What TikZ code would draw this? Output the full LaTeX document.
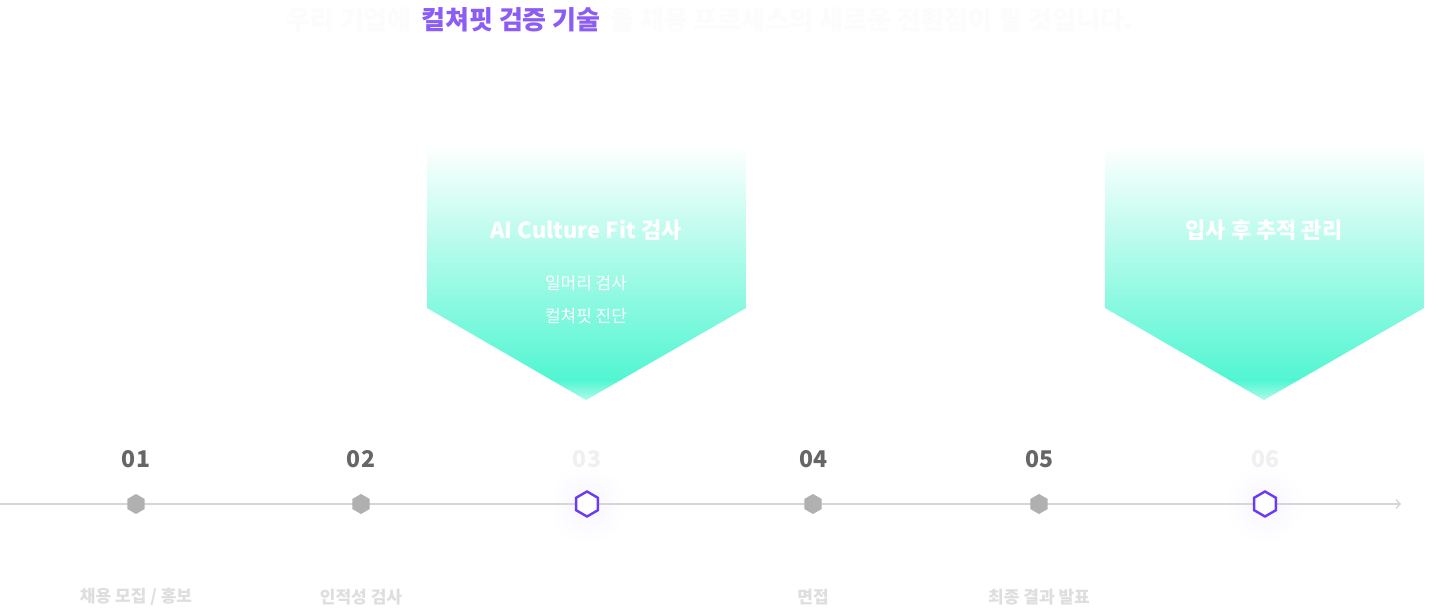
\documentclass[tikz,border=0pt]{standalone}
\usepackage{fontspec}
\setmainfont{Noto Sans CJK KR}
\usetikzlibrary{arrows.meta, positioning, shapes.geometric}
\definecolor{mint}{RGB}{82,246,210}
\definecolor{violetmain}{RGB}{107,58,245}
\definecolor{titlepurple}{RGB}{139,92,246}
\definecolor{stepgray}{RGB}{176,176,176}
\definecolor{numdark}{RGB}{102,102,102}
\definecolor{numlight}{RGB}{240,240,240}
\definecolor{labelgray}{RGB}{222,222,222}
\definecolor{faint}{RGB}{252,252,252}
\definecolor{linegray}{RGB}{214,214,214}

\begin{document}
\begin{tikzpicture}[x=1pt, y=-1pt,
    every node/.style={inner sep=0pt, align=center},
    title/.style={font=\fontsize{26}{30}\selectfont\bfseries},
    num/.style={font=\fontsize{23}{27}\selectfont\bfseries, text=numdark},
    numoff/.style={num, text=numlight},
    dot/.style={regular polygon, regular polygon sides=6, shape border rotate=30,
                fill=stepgray, minimum size=20pt},
    active/.style={regular polygon, regular polygon sides=6, shape border rotate=30,
                   draw=violetmain, line width=2.4pt, fill=white, minimum size=25pt},
    steplabel/.style={font=\fontsize{17}{21}\selectfont\bfseries, text=labelgray},
    headline/.style={font=\fontsize{22}{26}\selectfont\bfseries, text=white},
    subline/.style={font=\fontsize{17}{21}\selectfont, text=white},
    arr/.style={-{Straight Barb[length=4pt, width=9pt]}, line width=1.3pt, draw=linegray}
]
\fill[white] (0,0) rectangle (1449,609);
\useasboundingbox (0,0) rectangle (1449,609);

% heading
\node[title, text=titlepurple] (head) at (511,20) {컬쳐핏 검증 기술};
\node[title, text=faint, anchor=east] (headl) at (412,20) {우리 기업에};
\node[title, text=faint, anchor=west] (headr) at (610,20) {을 채용 프로세스의 새로운 전환점이 될 것입니다.};

% banners
\begin{scope}
  \clip (427,145) -- (746,145) -- (746,308) -- (586,400) -- (427,308) -- cycle;
  \shade[top color=white, bottom color=mint] (427,145) rectangle (746,380);
  \shade[top color=mint, bottom color=mint!45] (427,380) rectangle (746,401);
\end{scope}
\begin{scope}
  \clip (1105,145) -- (1424,145) -- (1424,308) -- (1264,400) -- (1105,308) -- cycle;
  \shade[top color=white, bottom color=mint] (1105,145) rectangle (1424,380);
  \shade[top color=mint, bottom color=mint!45] (1105,380) rectangle (1424,401);
\end{scope}
\node[headline] (fit)   at (586,230) {AI Culture Fit 검사};
\node[subline]  (fit1)  at (586,283) {일머리 검사};
\node[subline]  (fit2)  at (586,316) {컬쳐핏 진단};
\node[headline] (track) at (1264,230) {입사 후 추적 관리};

% timeline
\shade[inner color=violetmain!5, outer color=white] (587,504) circle (40);
\shade[inner color=violetmain!5, outer color=white] (1265,504) circle (40);
\coordinate (start) at (0,504);
\coordinate (end)   at (1401,504);
\draw[arr] (start) -- (end);

\node[dot]    (p1) at (136,504)  {};
\node[dot]    (p2) at (361,504)  {};
\node[active] (p3) at (587,504)  {};
\node[dot]    (p4) at (813,504)  {};
\node[dot]    (p5) at (1039,504) {};
\node[active] (p6) at (1265,504) {};

\node[num]    (n1) at (136,459)  {01};
\node[num]    (n2) at (361,459)  {02};
\node[numoff] (n3) at (587,459)  {03};
\node[num]    (n4) at (813,459)  {04};
\node[num]    (n5) at (1039,459) {05};
\node[numoff] (n6) at (1265,459) {06};

\node[steplabel] (l1) at (136,597)  {채용 모집 / 홍보};
\node[steplabel] (l2) at (361,597)  {인적성 검사};
\node[steplabel] (l4) at (813,597)  {면접};
\node[steplabel] (l5) at (1039,597) {최종 결과 발표};
\end{tikzpicture}
\end{document}
